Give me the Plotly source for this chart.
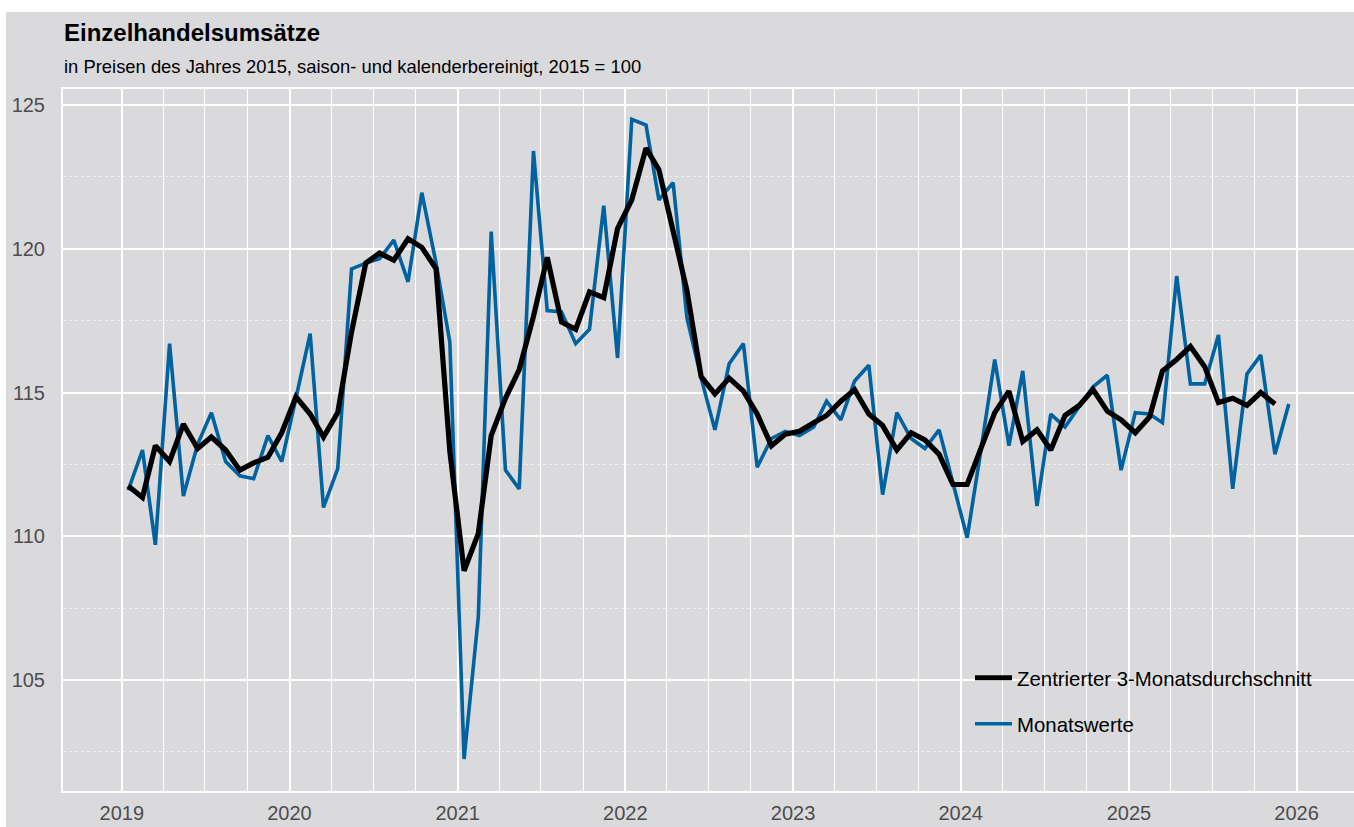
import plotly.graph_objects as go

# ---- data ----
years = list(range(2019, 2026))
month_dates = [f"{y}-{m:02d}-15" for y in years for m in range(1, 13)]
year_tick_dates = [f"{y}-01-01" for y in range(2019, 2027)]
year_tick_labels = [str(y) for y in range(2019, 2027)]
quarter_dates = [f"{y}-{m:02d}-01" for y in years for m in (4, 7, 10)]

monatswerte = [
    # 2019
    111.6, 113.0, 109.7, 116.7, 111.4, 113.2, 114.3, 112.6, 112.1, 112.0, 113.5, 112.6,
    # 2020
    114.8, 117.05, 111.0, 112.35, 119.3, 119.5, 119.65, 120.3, 118.85, 121.95, 119.5, 116.75,
    # 2021
    102.25, 107.2, 120.6, 112.3, 111.65, 123.4, 117.85, 117.8, 116.7, 117.2, 121.5, 116.2,
    # 2022
    124.5, 124.3, 121.7, 122.3, 117.6, 115.5, 113.7, 116.0, 116.7, 112.4, 113.4, 113.65,
    # 2023
    113.5, 113.8, 114.7, 114.05, 115.4, 115.95, 111.45, 114.3, 113.4, 113.05, 113.7, 111.8,
    # 2024
    109.95, 113.1, 116.15, 113.15, 115.75, 111.05, 114.25, 113.8, 114.5, 115.2, 115.6, 112.3,
    # 2025
    114.3, 114.25, 113.95, 119.05, 115.3, 115.3, 117.0, 111.65, 115.65, 116.3, 112.85, 114.6,
]

durchschnitt = [
    # 2019
    111.75, 111.35, 113.15, 112.6, 113.9, 113.05, 113.45, 113.0, 112.3, 112.55, 112.75, 113.6,
    # 2020
    114.85, 114.25, 113.45, 114.3, 117.1, 119.5, 119.85, 119.6, 120.35, 120.05, 119.3, 112.95,
    # 2021
    108.8, 110.1, 113.5, 114.8, 115.8, 117.65, 119.7, 117.45, 117.2, 118.5, 118.3, 120.7,
    # 2022
    121.7, 123.5, 122.75, 120.65, 118.55, 115.55, 114.95, 115.5, 115.05, 114.25, 113.15, 113.55,
    # 2023
    113.65, 113.95, 114.2, 114.7, 115.1, 114.25, 113.85, 113.0, 113.6, 113.35, 112.85, 111.8,
    # 2024
    111.8, 113.1, 114.3, 115.05, 113.3, 113.7, 113.0, 114.2, 114.55, 115.1, 114.35, 114.05,
    # 2025
    113.6, 114.15, 115.75, 116.15, 116.6, 115.9, 114.65, 114.8, 114.55, 115.0, 114.6,
]

y_ticks = [105, 110, 115, 120, 125]
y_minor = [102.5, 107.5, 112.5, 117.5, 122.5]
title_text = "Einzelhandelsumsätze"
subtitle_text = "in Preisen des Jahres 2015, saison- und kalenderbereinigt, 2015 = 100"
name_avg = "Zentrierter 3-Monatsdurchschnitt"
name_month = "Monatswerte"

# ---- styling ----
BG = "rgb(218,218,220)"
BLUE = "#00629f"
FONT = "Liberation Sans, Arial, sans-serif"
W, H = 1354, 827
ML, MR, MT, MB = 63, 0, 89, 36
PW, PH = W - ML - MR, H - MT - MB

def px_x(px):
    return (px - ML) / PW

def px_y(py):
    return (H - MB - py) / PH

fig = go.Figure()
fig.add_trace(go.Scatter(
    x=month_dates, y=monatswerte, mode="lines", name=name_month,
    line=dict(color=BLUE, width=3.6), legend="legend2",
))
fig.add_trace(go.Scatter(
    x=month_dates[:len(durchschnitt)], y=durchschnitt, mode="lines", name=name_avg,
    line=dict(color="black", width=5.2), legend="legend",
))

legend_common = dict(
    xanchor="left", yanchor="middle",
    bgcolor="rgba(0,0,0,0)", font=dict(size=20.4, color="black", family=FONT),
    itemwidth=37,
)

fig.update_layout(
    width=W, height=H,
    margin=dict(l=ML, r=MR, t=MT, b=MB, pad=0),
    paper_bgcolor="white",
    plot_bgcolor=BG,
    font=dict(family=FONT, color="black"),
    showlegend=True,
    legend=dict(x=px_x(970), y=px_y(678), **legend_common),
    legend2=dict(x=px_x(970), y=px_y(724), **legend_common),
    shapes=[dict(
        type="rect", xref="paper", yref="paper", layer="below",
        x0=px_x(6), x1=px_x(W + 5), y0=px_y(H + 5), y1=px_y(12),
        fillcolor=BG, line=dict(width=0),
    )],
    annotations=[
        dict(text=f"<b>{title_text}</b>", xref="paper", yref="paper",
             x=px_x(62), y=px_y(33), xanchor="left", yanchor="middle",
             showarrow=False, font=dict(size=24, color="black", family=FONT)),
        dict(text=subtitle_text, xref="paper", yref="paper",
             x=px_x(62), y=px_y(66), xanchor="left", yanchor="middle",
             showarrow=False, font=dict(size=18.4, color="black", family=FONT)),
    ],
)

fig.update_xaxes(
    type="date",
    range=["2018-08-26", "2026-05-06"],
    tickmode="array", tickvals=year_tick_dates, ticktext=year_tick_labels,
    showgrid=True, gridcolor="white", gridwidth=2,
    minor=dict(tickmode="array", tickvals=quarter_dates, showgrid=True,
               gridcolor="white", gridwidth=1.3),
    ticks="", ticklabelstandoff=3,
    tickfont=dict(size=20, color="#4D4D4D", family=FONT),
    showline=True, linecolor="white", linewidth=2, mirror=True,
    zeroline=False,
)
fig.update_yaxes(
    range=[101.139, 125.557],
    tickmode="array", tickvals=y_ticks, ticktext=[str(v) for v in y_ticks],
    showgrid=True, gridcolor="white", gridwidth=1.8,
    minor=dict(tickmode="array", tickvals=y_minor, showgrid=True,
               gridcolor="rgba(255,255,255,0.55)", gridwidth=1, griddash="dot"),
    ticks="", ticklabelstandoff=12,
    tickfont=dict(size=20, color="#4D4D4D", family=FONT),
    showline=True, linecolor="white", linewidth=2, mirror=False,
    zeroline=False,
)

fig.write_html(
    "out.html",
    config={"displayModeBar": False},
    post_script="document.body.style.margin='0';document.body.style.overflow='hidden';",
)
